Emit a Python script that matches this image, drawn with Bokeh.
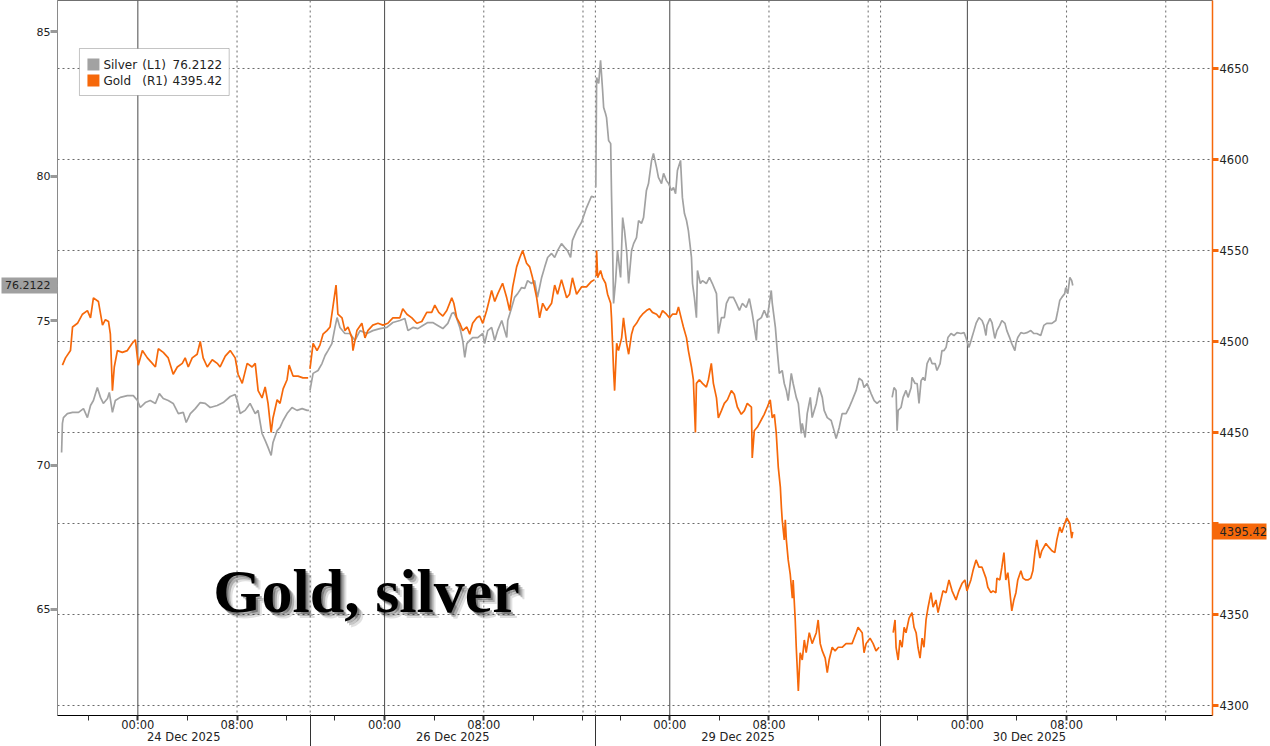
from bokeh.plotting import figure
from bokeh.models import (Range1d, LinearAxis, FixedTicker, Span, Label, BoxAnnotation,
                          CustomJSTickFormatter)
from bokeh.embed import file_html
from bokeh.resources import INLINE

# ---------------- data ----------------
sessions = ["24 Dec 2025", "26 Dec 2025", "29 Dec 2025", "30 Dec 2025"]
slot_open_h = [-6.5, -6.0, -6.0, -7.0]     # hours from the session date's midnight
slot_close_h = [13.9, 17.0, 17.0, 17.0]
time_tick_labels = ["00:00", "08:00"]

silver_ticks = [65, 70, 75, 80, 85]
gold_ticks = [4300, 4350, 4400, 4450, 4500, 4550, 4600, 4650]
silver_last = 76.2122
gold_last = 4395.42

# times: minutes from the session date's midnight
silver_min_24 = [-369, -365, -360, -341, -316, -287, -263, -244, -229, -215, -196, -181, -167, -147, -138,
                 -123, -109, -85, -51, -22, -2, 12, 36, 60, 85, 104, 123, 147, 171, 196, 220, 234, 254, 278,
                 302, 326, 350, 384, 413, 447, 471, 481, 495, 519, 543, 568, 582, 601, 616, 630, 645, 654,
                 674, 688, 703, 722, 746, 770, 795, 819, 828]
silver_val_24 = [70.43, 71.44, 71.64, 71.78, 71.82, 71.82, 71.95, 71.64, 72.06, 72.23, 72.68, 72.34, 72.13,
                 72.30, 72.51, 71.82, 72.23, 72.34, 72.40, 72.40, 72.23, 71.99, 72.16, 72.23, 72.13, 72.47,
                 72.30, 72.23, 72.13, 71.78, 71.82, 71.47, 71.78, 71.95, 72.16, 72.13, 71.99, 72.06, 72.16,
                 72.37, 72.44, 72.23, 71.78, 71.89, 72.13, 71.78, 71.89, 71.09, 70.85, 70.61, 70.33, 70.78,
                 71.19, 71.30, 71.54, 71.78, 71.99, 71.89, 71.95, 71.89, 71.89]

gold_min_24 = [-365, -350, -326, -316, -292, -268, -244, -229, -215, -191, -171, -157, -142, -133, -123, -114,
               -99, -75, -51, -27, -12, 2, 22, 46, 70, 85, 99, 123, 147, 171, 191, 215, 229, 244, 263, 287,
               302, 316, 336, 360, 384, 398, 423, 447, 471, 485, 505, 529, 553, 568, 582, 601, 616, 630, 645,
               654, 674, 688, 703, 722, 732, 751, 775, 799, 824]
gold_val_24 = [4487, 4491, 4495, 4508, 4510, 4515, 4517, 4513, 4524, 4522, 4509, 4512, 4511, 4504, 4473, 4486,
               4495, 4494, 4495, 4499, 4501, 4487, 4495, 4491, 4488, 4486, 4496, 4494, 4491, 4482, 4486, 4488,
               4491, 4486, 4491, 4493, 4500, 4491, 4486, 4490, 4488, 4486, 4492, 4495, 4491, 4482, 4477, 4488,
               4486, 4488, 4473, 4469, 4475, 4466, 4450, 4458, 4468, 4466, 4474, 4479, 4487, 4481, 4481, 4480,
               4480]

silver_min_26 = [-361, -346, -322, -303, -288, -274, -255, -240, -230, -216, -192, -168, -143, -119, -85, -57,
                 -23, 11, 40, 74, 98, 113, 137, 161, 185, 209, 233, 257, 282, 306, 325, 335, 349, 364, 378,
                 388, 398, 412, 426, 451, 475, 484, 499, 518, 533, 547, 567, 581, 591, 596, 615, 629, 644, 663,
                 678, 692, 711, 726, 740, 760, 774, 789, 808, 823, 837, 856, 871, 885, 900, 909, 929, 953, 977,
                 1001, 1016]
silver_val_26 = [72.58, 73.17, 73.27, 73.51, 73.79, 73.96, 74.20, 74.76, 75.10, 74.76, 74.55, 74.55, 74.31,
                 74.65, 74.55, 74.65, 74.72, 74.76, 74.93, 75.00, 75.07, 74.65, 74.76, 74.72, 74.83, 74.93,
                 74.93, 74.83, 74.72, 74.90, 75.24, 75.28, 75.07, 74.76, 74.31, 73.72, 74.20, 74.31, 74.41,
                 74.41, 74.55, 74.20, 74.65, 74.76, 74.31, 74.65, 75.00, 74.65, 74.41, 75.00, 75.45, 75.80,
                 75.93, 76.14, 76.11, 76.38, 76.28, 76.38, 75.80, 76.49, 76.83, 77.18, 77.32, 77.18, 77.42,
                 77.66, 77.53, 77.42, 77.18, 77.77, 78.11, 78.40, 78.90, 79.30, 79.26]

gold_min_26 = [-361, -346, -327, -313, -298, -279, -264, -250, -235, -226, -206, -192, -177, -158, -153, -134,
               -110, -95, -81, -57, -32, -8, 16, 40, 74, 88, 108, 132, 156, 180, 204, 228, 243, 262, 282, 301,
               325, 335, 349, 364, 378, 398, 412, 426, 446, 460, 475, 494, 518, 533, 547, 571, 591, 605, 620,
               639, 654, 668, 687, 702, 716, 736, 750, 765, 784, 808, 823, 837, 856, 881, 895, 909, 929, 953,
               977, 1001, 1016]
gold_val_26 = [4485, 4499, 4495, 4498, 4504, 4506, 4508, 4519, 4531, 4515, 4513, 4506, 4508, 4502, 4495, 4506,
               4510, 4502, 4506, 4509, 4510, 4509, 4510, 4513, 4513, 4518, 4515, 4513, 4510, 4511, 4516, 4516,
               4520, 4516, 4514, 4517, 4524, 4521, 4513, 4510, 4506, 4508, 4504, 4510, 4513, 4514, 4510, 4517,
               4528, 4522, 4526, 4532, 4524, 4517, 4530, 4541, 4546, 4550, 4543, 4541, 4535, 4524, 4513, 4521,
               4517, 4521, 4531, 4526, 4534, 4524, 4526, 4535, 4526, 4530, 4530, 4533, 4534]

silver_min_29 = [-358, -354, -344, -335, -325, -320, -311, -306, -296, -286, -282, -277, -272, -262, -253,
                 -238, -228, -219, -209, -199, -185, -175, -161, -151, -137, -127, -113, -103, -88, -79, -64,
                 -55, -40, -30, -16, -6, 8, 18, 28, 37, 52, 61, 71, 81, 90, 105, 110, 119, 129, 134, 148, 158,
                 177, 192, 206, 226, 235, 250, 264, 274, 288, 308, 322, 337, 351, 370, 385, 399, 419, 424, 443,
                 457, 472, 491, 496, 511, 520, 530, 544, 554, 564, 573, 588, 597, 612, 622, 636, 641, 655, 665,
                 680, 689, 709, 723, 738, 747, 762, 781, 795, 805, 820, 834, 853, 868, 882, 902, 916, 931, 940,
                 955, 974, 989, 1003, 1018]
silver_val_29 = [79.60, 83.41, 83.20, 84.00, 82.96, 82.37, 82.16, 82.02, 81.23, 81.12, 79.39, 77.66, 75.59,
                 76.38, 77.42, 76.49, 78.56, 78.11, 77.42, 76.28, 77.42, 77.66, 77.87, 78.46, 78.36, 78.56,
                 79.50, 79.74, 80.54, 80.78, 80.29, 79.95, 79.74, 80.09, 79.84, 79.74, 79.50, 79.60, 79.39,
                 80.19, 80.54, 79.26, 78.70, 78.46, 78.11, 77.18, 76.28, 75.80, 75.10, 76.73, 76.28, 76.38,
                 76.28, 76.49, 76.28, 75.93, 74.55, 75.10, 75.10, 75.59, 75.80, 75.80, 75.59, 75.35, 75.59,
                 75.45, 75.76, 75.24, 74.31, 75.00, 75.10, 75.35, 75.10, 76.04, 75.59, 74.76, 73.96, 73.17,
                 73.27, 72.82, 72.58, 72.23, 73.17, 72.82, 72.34, 72.13, 71.09, 71.44, 70.95, 71.78, 72.34,
                 71.64, 72.13, 72.68, 72.34, 71.89, 71.64, 71.54, 71.19, 70.92, 71.30, 71.78, 71.78, 71.99,
                 72.23, 72.58, 73.00, 72.92, 72.68, 72.82, 72.47, 72.23, 72.13, 72.23]

gold_min_29 = [-356, -354, -349, -335, -325, -311, -301, -286, -282, -277, -272, -267, -257, -248, -233, -224,
               -209, -199, -185, -175, -161, -146, -132, -113, -98, -84, -64, -50, -35, -16, -1, 13, 32, 42, 57,
               66, 81, 90, 105, 114, 124, 129, 143, 158, 177, 187, 201, 211, 226, 235, 250, 264, 279, 298, 312,
               327, 346, 361, 375, 395, 399, 409, 424, 443, 457, 472, 486, 496, 506, 515, 525, 535, 540, 544,
               554, 559, 564, 573, 583, 593, 597, 607, 612, 622, 631, 641, 651, 660, 675, 689, 699, 709, 718,
               728, 738, 752, 762, 771, 786, 800, 815, 834, 853, 868, 882, 902, 911, 931, 940, 950, 969, 984,
               998, 1013]
gold_val_29 = [4536, 4550, 4535, 4539, 4535, 4532, 4526, 4521, 4513, 4499, 4484, 4473, 4499, 4495, 4502, 4513,
               4499, 4493, 4504, 4508, 4510, 4513, 4515, 4517, 4518, 4516, 4515, 4513, 4517, 4515, 4513, 4515,
               4515, 4519, 4512, 4508, 4502, 4495, 4486, 4479, 4450, 4477, 4479, 4477, 4475, 4479, 4488, 4477,
               4469, 4458, 4462, 4466, 4468, 4473, 4471, 4464, 4460, 4462, 4466, 4464, 4436, 4451, 4453, 4457,
               4460, 4464, 4468, 4458, 4460, 4450, 4431, 4420, 4409, 4402, 4391, 4402, 4391, 4380, 4372, 4359,
               4369, 4347, 4332, 4308, 4329, 4325, 4336, 4329, 4340, 4334, 4337, 4340, 4347, 4334, 4330, 4326,
               4318, 4325, 4332, 4330, 4332, 4332, 4334, 4334, 4334, 4340, 4343, 4340, 4329, 4334, 4337, 4334,
               4330, 4332]

silver_min_30 = [-364, -355, -345, -340, -335, -321, -311, -297, -287, -272, -268, -253, -243, -234, -224,
                 -214, -205, -195, -181, -171, -156, -147, -132, -123, -113, -103, -94, -79, -65, -50, -31, -16,
                 -7, 8, 22, 32, 42, 56, 71, 80, 90, 95, 109, 119, 133, 143, 157, 167, 182, 191, 206, 215, 230,
                 235, 244, 259, 273, 288, 307, 322, 336, 355, 370, 384, 409, 428, 438, 447, 457, 471, 476, 486,
                 496, 505, 510]
silver_val_30 = [72.34, 72.68, 72.58, 71.19, 71.89, 71.99, 72.34, 72.58, 72.34, 72.68, 73.03, 72.82, 72.82,
                 72.13, 72.92, 73.03, 72.92, 73.51, 73.72, 73.51, 73.51, 73.27, 73.51, 73.96, 73.96, 74.07,
                 74.41, 74.55, 74.48, 74.58, 74.55, 74.58, 74.41, 74.07, 74.41, 74.65, 74.90, 75.10, 75.00,
                 74.83, 74.48, 74.83, 75.07, 74.93, 74.38, 74.65, 74.83, 75.00, 74.90, 74.65, 74.38, 74.20,
                 73.96, 74.20, 74.41, 74.58, 74.55, 74.58, 74.65, 74.55, 74.55, 74.48, 74.83, 74.90, 74.90,
                 75.00, 75.35, 75.69, 75.80, 75.93, 76.14, 75.93, 76.49, 76.38, 76.2122]

gold_min_30 = [-359, -350, -345, -335, -326, -316, -306, -297, -282, -268, -258, -248, -239, -229, -219, -210,
               -200, -190, -176, -166, -152, -142, -128, -118, -103, -89, -74, -55, -41, -26, -12, -2, 17, 27,
               42, 56, 71, 90, 99, 114, 124, 138, 143, 157, 167, 177, 186, 196, 206, 215, 225, 235, 244, 259,
               269, 283, 293, 307, 317, 327, 336, 351, 360, 380, 394, 409, 423, 433, 447, 457, 471, 481, 496,
               505, 510]
gold_val_30 = [4340, 4347, 4332, 4325, 4336, 4332, 4343, 4340, 4348, 4351, 4343, 4340, 4332, 4326, 4337, 4332,
               4347, 4354, 4362, 4354, 4358, 4351, 4358, 4363, 4362, 4369, 4363, 4358, 4363, 4367, 4369, 4363,
               4369, 4374, 4380, 4376, 4376, 4370, 4365, 4362, 4363, 4362, 4370, 4369, 4376, 4384, 4369, 4373,
               4362, 4352, 4358, 4362, 4369, 4374, 4370, 4369, 4369, 4370, 4374, 4384, 4391, 4381, 4385, 4389,
               4387, 4385, 4384, 4391, 4398, 4395, 4400, 4403, 4400, 4392, 4395.42]

silver_sets = [(silver_min_24, silver_val_24), (silver_min_26, silver_val_26),
               (silver_min_29, silver_val_29), (silver_min_30, silver_val_30)]
gold_sets = [(gold_min_24, gold_val_24), (gold_min_26, gold_val_26),
             (gold_min_29, gold_val_29), (gold_min_30, gold_val_30)]

# ---------------- layout / style ----------------
W, H = 1270, 746
FL, FR, FB = 57, 1214, 715           # frame edges in page pixels
X0, X1 = -6.48, 86.67
S_LO, S_HI = 61.332, 86.073
G_LO, G_HI = 4294.51, 4687.36

SILVER_C = "#a2a2a2"
GOLD_C = "#f6680a"
GRID_C = "#6a6a6a"
TEXT_C = "#222222"
FONT = "DejaVu Sans"


def tx(sx):  # page pixel -> x data
    return X0 + (sx - FL) / (FR - FL) * (X1 - X0)


def ys(sy):  # page pixel -> silver data
    return S_HI - sy / FB * (S_HI - S_LO)


mids = [0.0]
for i in range(1, len(sessions)):
    mids.append(mids[-1] + slot_close_h[i - 1] - slot_open_h[i])
bounds = [mids[i] + slot_close_h[i] for i in range(len(sessions) - 1)]

p = figure(width=W, height=H, x_range=Range1d(X0, X1), y_range=Range1d(S_LO, S_HI),
           x_axis_type=None, y_axis_type=None, output_backend="svg", toolbar_location=None,
           min_border_left=FL, min_border_right=W - FR, min_border_top=0, min_border_bottom=H - FB)
p.extra_y_ranges = {"gold": Range1d(G_LO, G_HI)}
p.background_fill_color = "white"
p.border_fill_color = "white"
p.outline_line_color = "#707070"

# grid
for g in gold_ticks:
    p.add_layout(Span(location=g, dimension="width", y_range_name="gold", line_color=GRID_C,
                      line_dash="2 3", line_width=1, level="underlay"))
for i, m in enumerate(mids):
    p.add_layout(Span(location=m, dimension="height", line_color="#4a4a4a", line_width=1, level="underlay"))
    for h in (8, 16):
        if h < slot_close_h[i]:
            p.add_layout(Span(location=m + h, dimension="height", line_color=GRID_C,
                              line_dash="2 3", line_width=1, level="underlay"))
for b in bounds:
    p.add_layout(Span(location=b, dimension="height", line_color=GRID_C, line_dash="2 3",
                      line_width=1, level="underlay"))

# series
for m, (mins, vals) in zip(mids, silver_sets):
    p.line([m + t / 60 for t in mins], vals, line_color=SILVER_C, line_width=1.7)
for m, (mins, vals) in zip(mids, gold_sets):
    p.line([m + t / 60 for t in mins], vals, line_color=GOLD_C, line_width=1.7, y_range_name="gold")

# ---- bottom axes: time row and date row (stacked) ----
time_ticks, time_labels, minor = [], {}, []
for i, m in enumerate(mids):
    for lab in time_tick_labels:
        t = m + int(lab[:2])
        time_ticks.append(t)
        time_labels[f"{t:.3f}"] = lab
    for h in range(-8, 24, 4):
        t = m + h
        if slot_open_h[i] <= h <= slot_close_h[i] and X0 <= t <= X1 and f"{t:.3f}" not in time_labels:
            minor.append(t)
lookup_js = "const k = tick.toFixed(3); return (k in labels) ? labels[k] : '';"
xaxis = LinearAxis(ticker=FixedTicker(ticks=time_ticks, minor_ticks=minor),
                   formatter=CustomJSTickFormatter(args=dict(labels=time_labels), code=lookup_js),
                   axis_line_color="#000000", major_tick_out=5, major_tick_in=0,
                   major_tick_line_color="#333333", major_tick_line_width=2,
                   minor_tick_out=5, minor_tick_in=0, minor_tick_line_color="#333333",
                   major_label_text_font=FONT, major_label_text_font_size="11.5px",
                   major_label_text_color=TEXT_C, major_label_standoff=-3)
p.add_layout(xaxis, "below")

date_ticks, date_labels = [], {}
for i, m in enumerate(mids):
    t = m + (slot_open_h[i] + slot_close_h[i]) / 2
    date_ticks.append(t)
    date_labels[f"{t:.3f}"] = sessions[i]
daxis = LinearAxis(ticker=FixedTicker(ticks=date_ticks, minor_ticks=bounds),
                   formatter=CustomJSTickFormatter(args=dict(labels=date_labels), code=lookup_js),
                   axis_line_color=None, major_tick_out=0, major_tick_in=0, major_tick_line_color=None,
                   minor_tick_out=12, minor_tick_in=20, minor_tick_line_color="#333333",
                   minor_tick_line_width=1,
                   major_label_text_font=FONT, major_label_text_font_size="11.5px",
                   major_label_text_color=TEXT_C, major_label_standoff=-17)
p.add_layout(daxis, "below")

# ---- left axis (silver); its minor tick is drawn as the last-value tag ----
left_js = ("if (Math.abs(tick - last) < 1e-6) { return last.toFixed(4); } "
           "return tick.toFixed(0);")
yl = LinearAxis(ticker=FixedTicker(ticks=silver_ticks + [silver_last], minor_ticks=[silver_last]),
                formatter=CustomJSTickFormatter(args=dict(last=silver_last), code=left_js),
                axis_line_color="#8a8a8a", major_tick_out=7, major_tick_in=0,
                major_tick_line_color="#9a9a9a", major_tick_line_width=3,
                minor_tick_out=56, minor_tick_in=0, minor_tick_line_color="#a0a0a0",
                minor_tick_line_width=16,
                major_label_text_font=FONT, major_label_text_font_size="11px",
                major_label_text_color=TEXT_C, major_label_standoff=-49)
p.add_layout(yl, "left")

# ---- right axis (gold); its minor tick is drawn as the last-value tag ----
right_js = ("if (Math.abs(tick - last) < 1e-6) { return last.toFixed(2); } "
            "if (Math.abs(tick - last) < 10) { return ''; } "
            "return tick.toFixed(0);")
yr = LinearAxis(y_range_name="gold",
                ticker=FixedTicker(ticks=gold_ticks + [gold_last], minor_ticks=[gold_last]),
                formatter=CustomJSTickFormatter(args=dict(last=gold_last), code=right_js),
                axis_line_color=GOLD_C, axis_line_width=1.5, major_tick_out=6, major_tick_in=0,
                major_tick_line_color=GOLD_C, major_tick_line_width=3,
                minor_tick_out=54, minor_tick_in=0, minor_tick_line_color=GOLD_C,
                minor_tick_line_width=16,
                major_label_text_font=FONT, major_label_text_font_size="11.5px",
                major_label_text_color=TEXT_C, major_label_standoff=-47)
p.add_layout(yr, "right")

# ---- big title with shadow ----
for dx, dy, a in ((6, 6, 0.12), (4, 4, 0.22), (2, 2, 0.3)):
    p.add_layout(Label(x=tx(213 + dx), y=ys(590 + dy), text="Gold, silver", text_font="Liberation Serif",
                       text_font_style="bold", text_font_size="62px", text_color="#000000",
                       text_alpha=a, text_baseline="alphabetic"))
p.add_layout(Label(x=tx(213), y=ys(590), text="Gold, silver", text_font="Liberation Serif",
                   text_font_style="bold", text_font_size="62px", text_color="#000000",
                   text_baseline="alphabetic"))

# ---- legend ----
p.add_layout(BoxAnnotation(left=tx(79), right=tx(229), top=ys(48), bottom=ys(95), fill_color="white",
                           fill_alpha=1, line_color="#3a3a3a", line_width=1))
legend_rows = [("Silver", "(L1)", f"{silver_last:.4f}", SILVER_C, 64),
               ("Gold", "(R1)", f"{gold_last:.2f}", GOLD_C, 80)]
for name, ax_tag, val, col, cy in legend_rows:
    p.add_layout(BoxAnnotation(left=tx(87), right=tx(99), top=ys(cy - 6), bottom=ys(cy + 6),
                               fill_color=col, fill_alpha=1, line_color=None))
    for txt, sx, al in ((name, 103, "left"), (ax_tag, 142, "left"), (val, 222, "right")):
        p.add_layout(Label(x=tx(sx), y=ys(cy), text=txt, text_align=al, text_baseline="middle",
                           text_font=FONT, text_font_size="12px", text_color=TEXT_C))

open("out.html", "w").write(file_html(p, INLINE, title="Gold, silver"))
